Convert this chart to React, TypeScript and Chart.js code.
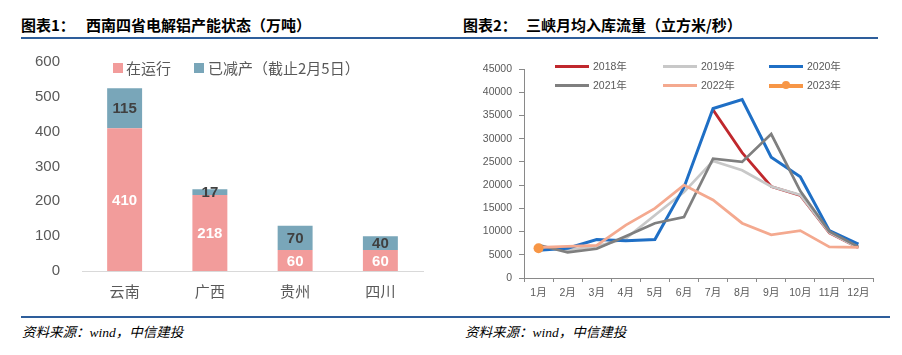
import React, { useEffect, useRef } from "react";
import { Chart, registerables } from "chart.js";

Chart.register(...registerables);

// ---------- Chart 1 data ----------
const provinces = ["云南", "广西", "贵州", "四川"];
const running = [410, 218, 60, 60];
const cutBack = [115, 17, 70, 40];
const barSeriesNames = ["在运行", "已减产（截止2月5日）"];
const barColors = ["#F29C9B", "#79A6B9"];

// ---------- Chart 2 data ----------
const months = ["1月", "2月", "3月", "4月", "5月", "6月", "7月", "8月", "9月", "10月", "11月", "12月"];
const yearNames = ["2018年", "2019年", "2020年", "2021年", "2022年", "2023年"];
const flow2018 = [null, null, null, null, null, null, 36200, 27000, 19700, 17800, 9700, 6500];
const flow2019 = [6700, 6000, 6800, 8500, 13500, 18500, 25200, 23200, 19700, 17900, 9800, 6500];
const flow2020 = [6000, 6400, 8300, 8000, 8300, 19500, 36500, 38400, 26000, 21800, 10200, 7300];
const flow2021 = [7100, 5500, 6300, 9000, 11800, 13100, 25700, 25000, 31000, 18700, 10000, 6700];
const flow2022 = [6600, 6800, 7000, 11400, 15000, 20000, 16800, 11800, 9300, 10200, 6700, 6600];
const flow2023 = [6400, null, null, null, null, null, null, null, null, null, null, null];
const yearColors = ["#C0282D", "#C8C8C8", "#1F6FC5", "#7F7F7F", "#F4A98F", "#F79646"];

const AXIS_FONT = "'Liberation Sans', Arial, 'Noto Sans CJK SC', sans-serif";
const CJK_FONT = "'Noto Sans CJK SC', 'Liberation Sans', sans-serif";
const GREY_TEXT = "#595959";

const barLabelPlugin = {
  id: "barLabels",
  afterDatasetsDraw(chart: any) {
    const ctx = chart.ctx;
    ctx.save();
    ctx.font = "bold 15px 'Liberation Sans', Arial, sans-serif";
    ctx.textAlign = "center";
    ctx.textBaseline = "middle";
    chart.data.datasets.forEach((ds: any, i: number) => {
      const meta = chart.getDatasetMeta(i);
      meta.data.forEach((el: any, j: number) => {
        const p = el.getProps(["x", "y", "base"], true);
        ctx.fillStyle = i === 0 ? "#FFFFFF" : "#404040";
        ctx.fillText(String(ds.data[j]), p.x, (p.y + p.base) / 2 + 1);
      });
    });
    ctx.restore();
  },
};

export default function App() {
  const barRef = useRef<HTMLCanvasElement>(null);
  const lineRef = useRef<HTMLCanvasElement>(null);

  useEffect(() => {
    const barChart = new Chart(barRef.current as HTMLCanvasElement, {
      type: "bar",
      data: {
        labels: provinces,
        datasets: [
          { label: barSeriesNames[0], data: running, backgroundColor: barColors[0], barPercentage: 0.41, categoryPercentage: 1 },
          { label: barSeriesNames[1], data: cutBack, backgroundColor: barColors[1], barPercentage: 0.41, categoryPercentage: 1 },
        ],
      },
      options: {
        animation: false,
        responsive: false,
        layout: { padding: { top: 17, right: 27, left: 0, bottom: 0 } },
        plugins: { legend: { display: false }, tooltip: { enabled: false } },
        scales: {
          x: {
            stacked: true,
            grid: { display: false },
            border: { display: true, color: "#D9D9D9", width: 1 },
            ticks: { color: GREY_TEXT, font: { size: 15, family: CJK_FONT }, padding: 3 },
            afterFit: (s: any) => { s.height = 39; },
          },
          y: {
            stacked: true,
            min: 0,
            max: 600,
            grid: { display: false },
            border: { display: false },
            ticks: { stepSize: 100, color: GREY_TEXT, font: { size: 15, family: AXIS_FONT }, padding: 14, callback: (v: any) => String(v) },
            afterFit: (s: any) => { s.width = 82; s.paddingTop = 0; s.paddingBottom = 0; },
          },
        },
      },
      plugins: [barLabelPlugin],
    } as any);

    const series = [flow2018, flow2019, flow2020, flow2021, flow2022, flow2023];
    const lineChart = new Chart(lineRef.current as HTMLCanvasElement, {
      type: "line",
      data: {
        labels: months,
        datasets: series.map((d, i) => ({
          label: yearNames[i],
          data: d,
          borderColor: yearColors[i],
          backgroundColor: yearColors[i],
          borderWidth: i === 2 ? 3 : 2.75,
          pointRadius: i === 5 ? 5 : 0,
          pointBorderWidth: 0,
          pointBackgroundColor: yearColors[i],
          tension: 0,
          order: 6 - i,
        })),
      },
      options: {
        animation: false,
        responsive: false,
        layout: { padding: { top: 24, right: 29, left: 0, bottom: 0 } },
        plugins: { legend: { display: false }, tooltip: { enabled: false } },
        scales: {
          x: {
            offset: true,
            grid: { offset: true, drawOnChartArea: false, drawTicks: true, tickLength: 4, color: "#898989" },
            border: { display: true, color: "#898989", width: 1 },
            ticks: { color: GREY_TEXT, font: { size: 10.5, family: AXIS_FONT }, padding: 5, maxRotation: 0, autoSkip: false },
            afterFit: (s: any) => { s.height = 32; },
          },
          y: {
            min: 0,
            max: 45000,
            grid: { drawOnChartArea: false, drawTicks: true, tickLength: 5, color: "#898989" },
            border: { display: true, color: "#898989", width: 1 },
            ticks: { stepSize: 5000, color: GREY_TEXT, font: { size: 10.5, family: AXIS_FONT }, padding: 7, callback: (v: any) => String(v) },
            afterFit: (s: any) => { s.width = 73; },
          },
        },
      },
    } as any);

    return () => {
      barChart.destroy();
      lineChart.destroy();
    };
  }, []);

  const titleStyle: React.CSSProperties = {
    position: "absolute",
    top: 15,
    fontFamily: CJK_FONT,
    fontWeight: 700,
    fontSize: 15,
    lineHeight: "19px",
    color: "#000",
    whiteSpace: "nowrap",
  };
  const sourceStyle: React.CSSProperties = {
    position: "absolute",
    top: 324,
    fontFamily: "'Liberation Serif', 'Noto Sans CJK SC', serif",
    fontStyle: "italic",
    fontSize: 13.5,
    lineHeight: "18px",
    color: "#000",
    whiteSpace: "nowrap",
  };
  const legText: React.CSSProperties = {
    position: "absolute",
    fontFamily: AXIS_FONT,
    fontSize: 10.5,
    color: GREY_TEXT,
    lineHeight: "14px",
    whiteSpace: "nowrap",
  };
  const colX = [555, 663, 769];
  const rowY = [66, 85];

  return (
    <div style={{ position: "absolute", left: 0, top: 0, width: 902, height: 355, background: "#FFFFFF", overflow: "hidden" }}>
      <div style={{ ...titleStyle, left: 21 }}>图表1：</div>
      <div style={{ ...titleStyle, left: 86 }}>西南四省电解铝产能状态（万吨）</div>
      <div style={{ ...titleStyle, left: 463 }}>图表2：</div>
      <div style={{ ...titleStyle, left: 526 }}>三峡月均入库流量（立方米/秒）</div>
      <div style={{ position: "absolute", left: 21, top: 37, width: 857, height: 2, background: "#2E5E9B" }} />

      <canvas ref={barRef} width={450} height={265} style={{ position: "absolute", left: 0, top: 45 }} />
      <canvas ref={lineRef} width={451} height={265} style={{ position: "absolute", left: 451, top: 45 }} />

      {/* bar legend */}
      <div style={{ position: "absolute", left: 113, top: 63, width: 10, height: 10, background: barColors[0] }} />
      <div style={{ position: "absolute", left: 126, top: 58, fontFamily: CJK_FONT, fontSize: 15, lineHeight: "20px", color: GREY_TEXT, whiteSpace: "nowrap" }}>{barSeriesNames[0]}</div>
      <div style={{ position: "absolute", left: 194, top: 63, width: 10, height: 10, background: barColors[1] }} />
      <div style={{ position: "absolute", left: 208, top: 58, fontFamily: CJK_FONT, fontSize: 15, lineHeight: "20px", color: GREY_TEXT, whiteSpace: "nowrap" }}>{barSeriesNames[1]}</div>

      {/* line legend */}
      {yearNames.map((name, i) => {
        const x = colX[i % 3];
        const y = rowY[Math.floor(i / 3)];
        return (
          <React.Fragment key={name}>
            <div style={{ position: "absolute", left: x, top: y - 1.5, width: 34, height: i === 5 ? 4 : 3, background: yearColors[i] }} />
            {i === 5 && (
              <div style={{ position: "absolute", left: x + 13, top: y - 4, width: 8, height: 8, borderRadius: 4, background: yearColors[i] }} />
            )}
            <div style={{ ...legText, left: x + 38, top: y - 7 }}>{name}</div>
          </React.Fragment>
        );
      })}

      <div style={{ position: "absolute", left: 21, top: 316, width: 869, height: 2, background: "#2E5E9B" }} />
      <div style={{ ...sourceStyle, left: 22 }}>资料来源：wind，中信建投</div>
      <div style={{ ...sourceStyle, left: 465 }}>资料来源：wind，中信建投</div>
    </div>
  );
}
